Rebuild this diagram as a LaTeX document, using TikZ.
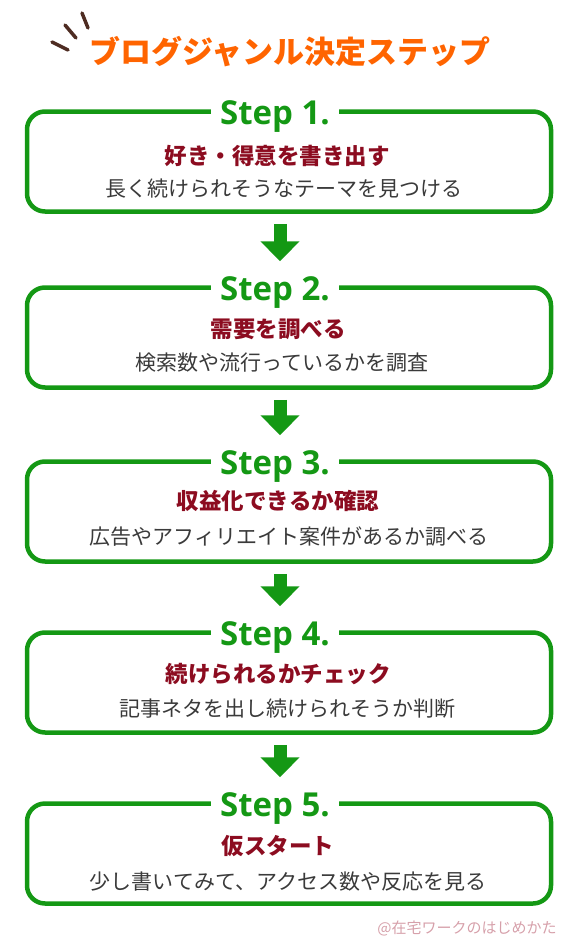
\documentclass[tikz,border=0pt]{standalone}
\usepackage{fontspec}
\setmainfont{Open Sans}
\newfontfamily\cjk{Noto Sans CJK JP}
\newfontfamily\stepfont{Open Sans}
\usetikzlibrary{arrows.meta,calc}
\definecolor{stepgreen}{RGB}{20,152,20}
\definecolor{darkred}{RGB}{140,12,32}
\definecolor{graytext}{RGB}{58,58,58}
\definecolor{titleorange}{RGB}{255,100,0}
\definecolor{brownline}{RGB}{78,44,34}
\definecolor{pinktext}{RGB}{214,160,170}
\tikzset{
  stepbox/.style={draw=stepgreen, line width=4.5pt, rounded corners=18pt, minimum width=524pt, minimum height=100pt, inner sep=0pt},
  steplabel/.style={fill=white, text=stepgreen, font=\stepfont\bfseries\fontsize{33}{36}\selectfont, inner xsep=9pt, inner ysep=2pt, anchor=base},
  headtext/.style={text=darkred, font=\cjk\bfseries\fontsize{22.5}{25}\selectfont, anchor=base},
  subtext/.style={text=graytext, font=\cjk\fontsize{21}{24}\selectfont, anchor=base},
  bigarrow/.style={draw=stepgreen, line width=13pt, -{Triangle[width=38pt,length=20pt]}},
  deco/.style={draw=brownline, line width=3.5pt, line cap=round}
}
\begin{document}
\begin{tikzpicture}[x=1pt,y=-1pt]
\useasboundingbox (0,0) rectangle (575,950);
% title decoration
\draw[deco] (52,42) -- (68,50);
\draw[deco] (65,25) -- (76,38);
\draw[deco] (82,13) -- (88,28);
\node[text=titleorange, font=\cjk\bfseries\fontsize{31}{34}\selectfont] (title) at (290,52) {ブログジャンル決定ステップ};
% boxes
\foreach \i/\top in {1/111, 2/287, 3/461, 4/632, 5/803} {
  \node[stepbox] (b\i) at (289,\top+50.5) {};
}
% labels
\node[steplabel] (l1) at (275,124) {Step 1.};
\node[steplabel] (l2) at (275,300) {Step 2.};
\node[steplabel] (l3) at (275,474) {Step 3.};
\node[steplabel] (l4) at (275,645) {Step 4.};
\node[steplabel] (l5) at (275,816) {Step 5.};
% heads
\node[headtext] (h1) at (277,164) {好き・得意を書き出す};
\node[headtext] (h2) at (278,337) {需要を調べる};
\node[headtext] (h3) at (278,509) {収益化できるか確認};
\node[headtext] (h4) at (278,682) {続けられるかチェック};
\node[headtext] (h5) at (278,854) {仮スタート};
% sub texts
\node[subtext] (s1) at (284,196) {長く続けられそうなテーマを見つける};
\node[subtext] (s2) at (282,370) {検索数や流行っているかを調査};
\node[subtext] (s3) at (289,544) {広告やアフィリエイト案件があるか調べる};
\node[subtext] (s4) at (287,716) {記事ネタを出し続けられそうか判断};
\node[subtext] (s5) at (288,889) {少し書いてみて、アクセス数や反応を見る};
% arrows
\foreach \a/\b in {1/2, 2/3, 3/4, 4/5} {
  \draw[bigarrow] ([xshift=-9pt,yshift=-10pt]b\a.south) -- ([xshift=-9pt,yshift=24pt]b\b.north);
}
% watermark
\node[text=pinktext, font=\cjk\fontsize{15}{18}\selectfont] (wm) at (467,928) {@在宅ワークのはじめかた};
\end{tikzpicture}
\end{document}
